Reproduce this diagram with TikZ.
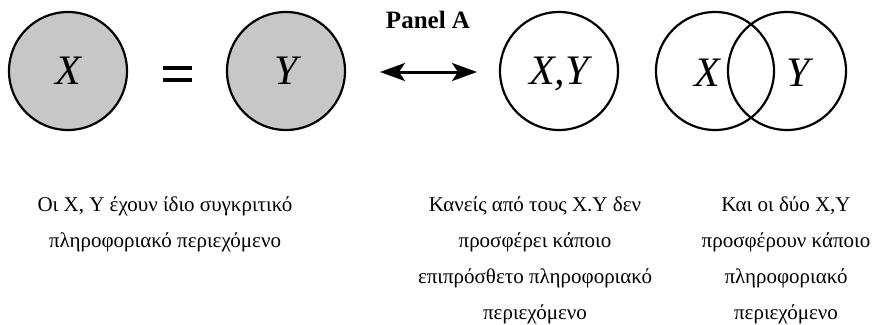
\documentclass[tikz,border=0pt]{standalone}
\usepackage{fontspec}
\setmainfont{Liberation Serif}
\usetikzlibrary{arrows.meta}
\begin{document}
\begin{tikzpicture}[x=1pt,y=-1pt,
  setlabel/.style={font=\fontsize{42}{42}\selectfont\itshape,text depth=0pt,inner sep=0pt},
  set/.style={circle,draw=black,line width=2.2pt,minimum size=118pt,inner sep=0pt,setlabel},
  shaded/.style={set,fill=black!22},
  bar/.style={line width=4pt},
  bighead/.tip={Stealth[length=25pt,width=18pt,inset=6pt]},
  caption/.style={align=center,inner sep=0pt,anchor=north,
    font=\fontsize{21}{36}\selectfont}]
\useasboundingbox (0,0) rectangle (874,324);

% first panel: two shaded sets with the same content
\node[shaded] (X) at (68,71) {X};
\node[shaded] (Y) at (286,71) {Y};
% equals sign between them
\coordinate (eqa) at (163,68);
\coordinate (eqb) at (192,68);
\coordinate (eqc) at (163,80);
\coordinate (eqd) at (192,80);
\draw[bar] (eqa) -- (eqb);
\draw[bar] (eqc) -- (eqd);

% the double arrow and its title
\node[font=\fontsize{25}{25}\selectfont\bfseries] (title) at (428,20) {Panel A};
\coordinate (al) at (380,72);
\coordinate (ar) at (477,72);
\draw[line width=3pt,bighead-bighead] (al) -- (ar);

% single set holding both
\node[set] (XY) at (559,71) {X,Y};

% overlapping sets
\node[set] (VX) at (715,71) {};
\node[set] (VY) at (787,71) {};
\node[setlabel] (lx) at (707,73) {X};
\node[setlabel] (ly) at (798,73) {Y};

% captions
\node[caption] (c1) at (165,196) {Οι X, Y έχουν ίδιο συγκριτικό\\πληροφοριακό περιεχόμενο};
\node[caption] (c2) at (535,196) {Κανείς από τους X.Y δεν\\προσφέρει κάποιο\\επιπρόσθετο πληροφοριακό\\περιεχόμενο};
\node[caption] (c3) at (786,196) {Και οι δύο X,Y\\προσφέρουν κάποιο\\πληροφοριακό\\περιεχόμενο};
\end{tikzpicture}
\end{document}
